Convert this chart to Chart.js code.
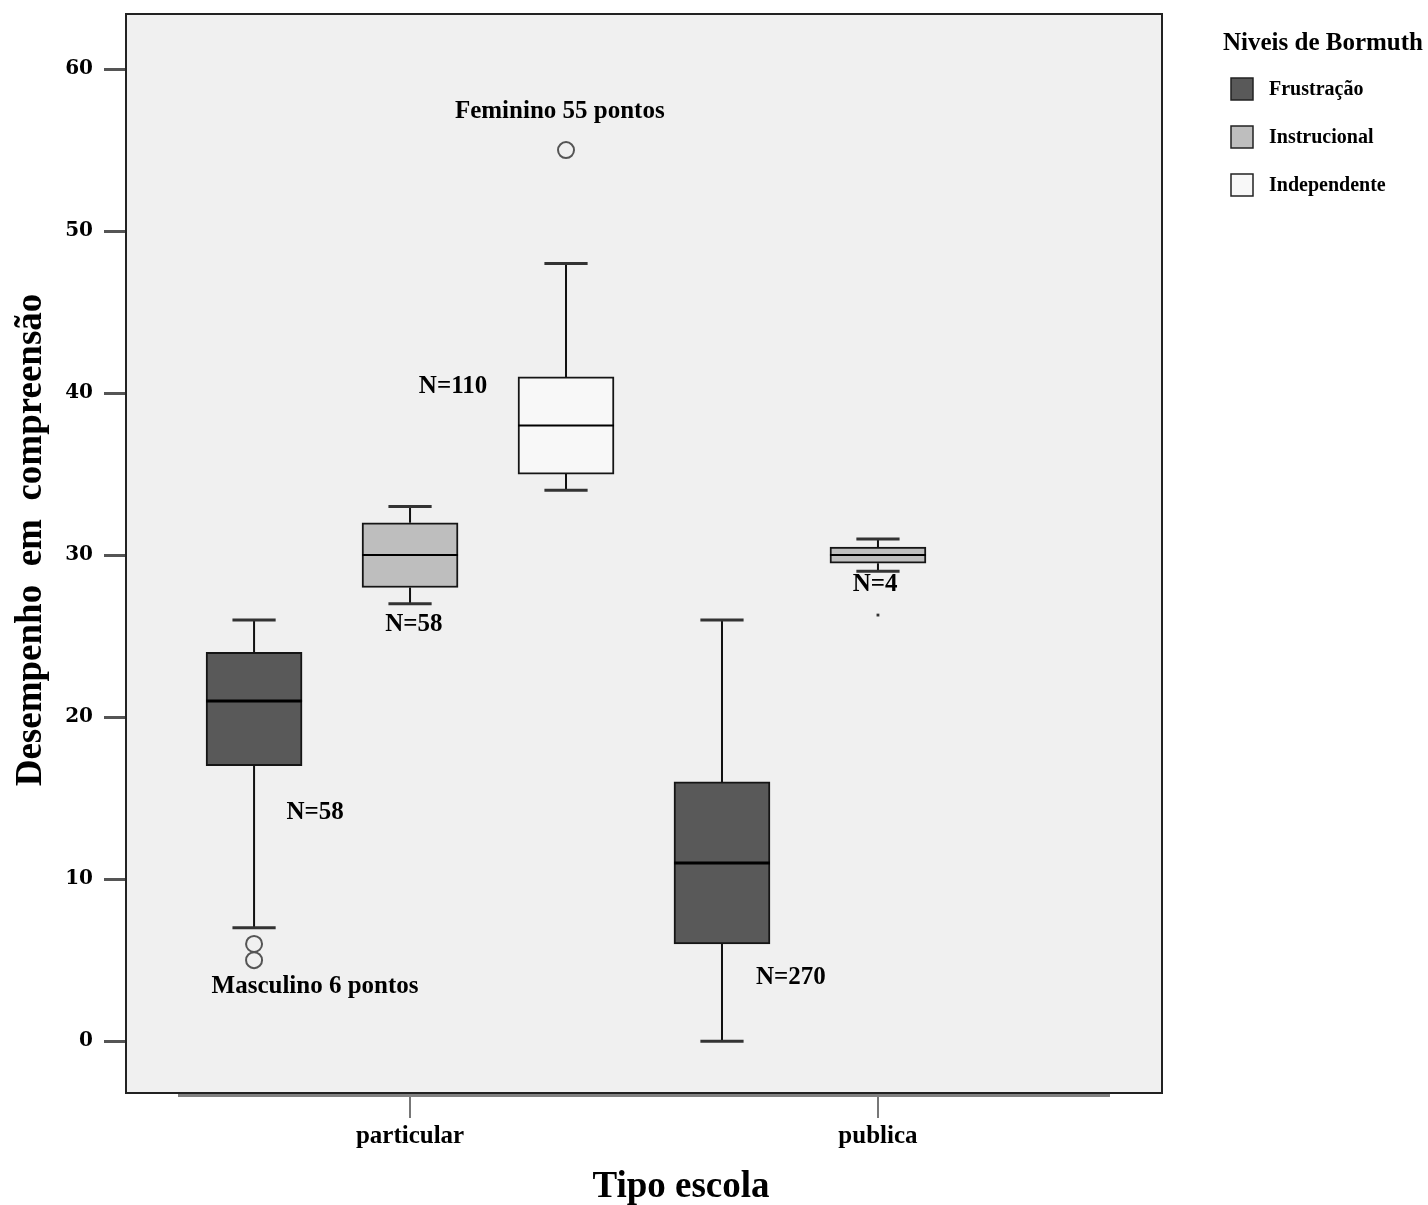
<!DOCTYPE html>
<html>
<head>
<meta charset="utf-8">
<script src="https://cdn.jsdelivr.net/npm/chart.js@4.4.0/dist/chart.umd.min.js"></script>
<style>
    body { margin: 0; background: #fff; }
    #wrap { width: 1428px; height: 1205px; }
</style>
</head>
<body>
<div id="wrap"><canvas id="myChart" width="1428" height="1205"></canvas></div>
<script>

const schools = ['particular', 'publica']
const schoolPos = [1, 2]
const levels = ['Frustração', 'Instrucional', 'Independente']
const levelOffset = [-1/3, 0, 1/3]
const levelColors = ['#595959', '#bebebe', '#f8f8f8']
const yTicks = [0, 10, 20, 30, 40, 50, 60]

// [min, q1, median, q3, max] for particular, publica
const frustracao = [[7, 17, 21, 24, 26], [0, 6, 11, 16, 26]]
const instrucional = [[27, 28, 30, 32, 33], [29, 29.5, 30, 30.5, 31]]
const independente = [[34, 35, 38, 41, 48], null]
const levelStats = [frustracao, instrucional, independente]

// outliers for particular, publica
const frustOutliers = [[6, 5], []]
const instrOutliers = [[], [26.3]]
const indepOutliers = [[55], []]

// text notes placed in axis units
const noteTexts = ['Feminino 55 pontos', 'N=110', 'N=58', 'N=58', 'Masculino 6 pontos', 'N=270', 'N=4']
const noteX = [1.32, 1.092, 1.008, 0.797, 0.797, 1.814, 1.994]
const noteY = [57.35, 40.4, 25.7, 14.1, 3.4, 3.9, 28.2]

const xTitle = 'Tipo escola'
const yTitle = 'Desempenho  em  compreensão'

Chart.defaults.font.family = "'Liberation Serif', 'Times New Roman', serif"
Chart.defaults.font.weight = 'bold'
Chart.defaults.color = '#000'

function boxData(stats, level) {
    const out = []
    stats.forEach((s, i) => {
        if (s) out.push({ x: schoolPos[i] + levelOffset[level], y: [s[1], s[3]], school: i })
    })
    return out
}

function outlierData(list, level) {
    const out = []
    list.forEach((vals, i) => {
        vals.forEach(v => out.push({ x: schoolPos[i] + levelOffset[level], y: v }))
    })
    return out
}

const datasets = levels.map((name, l) => ({
    type: 'bar',
    label: name,
    data: boxData(levelStats[l], l),
    backgroundColor: levelColors[l],
    borderColor: '#151515',
    borderWidth: 2,
    borderSkipped: false,
    barThickness: 96,
    grouped: false
}))

datasets.push({
    type: 'scatter',
    label: 'outliers',
    data: [...outlierData(frustOutliers, 0), ...outlierData(indepOutliers, 2)],
    pointStyle: 'circle',
    pointRadius: 8,
    borderColor: '#555',
    borderWidth: 2,
    backgroundColor: 'rgba(0,0,0,0)'
})
datasets.push({
    type: 'scatter',
    label: 'extremos',
    data: outlierData(instrOutliers, 1),
    pointStyle: 'rect',
    pointRadius: 2,
    borderWidth: 0,
    backgroundColor: '#333'
})

const boxPlugin = {
    id: 'boxPlugin',
    beforeDraw(chart) {
        const { ctx, chartArea } = chart
        ctx.save()
        ctx.fillStyle = '#f0f0f0'
        ctx.fillRect(chartArea.left, chartArea.top, chartArea.right - chartArea.left, chartArea.bottom - chartArea.top)
        ctx.restore()
    },
    beforeDatasetsDraw(chart) {
        const { ctx } = chart
        const x = chart.scales.x
        const y = chart.scales.y
        ctx.save()
        levelStats.forEach((stats, l) => {
            const meta = chart.getDatasetMeta(l)
            meta.data.forEach((bar, j) => {
                const d = chart.data.datasets[l].data[j]
                const s = stats[d.school]
                const px = x.getPixelForValue(d.x)
                const cap = bar.width * 0.45
                ctx.strokeStyle = '#111'
                ctx.lineWidth = 2
                ctx.beginPath()
                ctx.moveTo(px, y.getPixelForValue(s[3]))
                ctx.lineTo(px, y.getPixelForValue(s[4]))
                ctx.moveTo(px, y.getPixelForValue(s[1]))
                ctx.lineTo(px, y.getPixelForValue(s[0]))
                ctx.stroke()
                ctx.strokeStyle = '#333'
                ctx.lineWidth = 3
                ctx.beginPath()
                ctx.moveTo(px - cap / 2, y.getPixelForValue(s[4]))
                ctx.lineTo(px + cap / 2, y.getPixelForValue(s[4]))
                ctx.moveTo(px - cap / 2, y.getPixelForValue(s[0]))
                ctx.lineTo(px + cap / 2, y.getPixelForValue(s[0]))
                ctx.stroke()
            })
        })
        ctx.restore()
    },
    afterDatasetsDraw(chart) {
        const { ctx } = chart
        const x = chart.scales.x
        const y = chart.scales.y
        ctx.save()
        levelStats.forEach((stats, l) => {
            const meta = chart.getDatasetMeta(l)
            meta.data.forEach((bar, j) => {
                const d = chart.data.datasets[l].data[j]
                const s = stats[d.school]
                const px = x.getPixelForValue(d.x)
                const py = y.getPixelForValue(s[2])
                ctx.strokeStyle = '#000'
                ctx.lineWidth = l === 0 ? 3 : 2
                ctx.beginPath()
                ctx.moveTo(px - bar.width / 2, py)
                ctx.lineTo(px + bar.width / 2, py)
                ctx.stroke()
            })
        })
        ctx.font = "bold 25px 'Liberation Serif'"
        ctx.fillStyle = '#000'
        ctx.textAlign = 'center'
        ctx.textBaseline = 'middle'
        noteTexts.forEach((t, i) => {
            ctx.fillText(t, x.getPixelForValue(noteX[i]), y.getPixelForValue(noteY[i]))
        })
        ctx.restore()
    },
    afterDraw(chart) {
        const { ctx, chartArea } = chart
        ctx.save()
        // frame
        ctx.strokeStyle = '#222'
        ctx.lineWidth = 2
        ctx.strokeRect(chartArea.left, chartArea.top, chartArea.right - chartArea.left, chartArea.bottom - chartArea.top)
        // axis line under the frame
        ctx.strokeStyle = '#808080'
        ctx.lineWidth = 3
        ctx.beginPath()
        ctx.moveTo(chartArea.left + 52, chartArea.bottom + 2.5)
        ctx.lineTo(chartArea.right - 52, chartArea.bottom + 2.5)
        ctx.stroke()
        // axis titles
        ctx.fillStyle = '#000'
        ctx.textAlign = 'center'
        ctx.textBaseline = 'middle'
        ctx.font = "bold 37px 'Liberation Serif'"
        ctx.fillText(xTitle, 681, 1187)
        ctx.translate(31, 540)
        ctx.rotate(-Math.PI / 2)
        ctx.fillText(yTitle, 0, 0)
        ctx.setTransform(1, 0, 0, 1, 0, 0)
        // legend
        const lx = chartArea.right + 61
        ctx.textAlign = 'left'
        ctx.font = "bold 25px 'Liberation Serif'"
        ctx.fillText('Niveis de Bormuth', lx, 44)
        ctx.font = "bold 20px 'Liberation Serif'"
        levels.forEach((name, l) => {
            const cy = 89 + l * 48
            ctx.fillStyle = levelColors[l]
            ctx.fillRect(lx + 8, cy - 11, 22, 22)
            ctx.strokeStyle = '#222'
            ctx.lineWidth = 1.5
            ctx.strokeRect(lx + 8, cy - 11, 22, 22)
            ctx.fillStyle = '#000'
            ctx.fillText(name, lx + 46, cy + 1)
        })
        ctx.restore()
    }
}

const ctx = document.getElementById('myChart')
new Chart(ctx, {
    data: { datasets: datasets },
    options: {
        responsive: false,
        animation: false,
        layout: { padding: { left: 0, top: 14, right: 266, bottom: 0 } },
        plugins: {
            legend: { display: false },
            tooltip: { enabled: false }
        },
        scales: {
            x: {
                type: 'linear',
                offset: false,
                min: 0.393,
                max: 2.607,
                afterBuildTicks: scale => { scale.ticks = schoolPos.map(v => ({ value: v })) },
                afterFit: scale => {
                    scale.height = 112
                    scale.paddingLeft = 0
                    scale.paddingRight = 0
                },
                ticks: {
                    callback: (v, i) => schools[i],
                    font: { size: 25, weight: 'bold' },
                    padding: 4,
                    maxRotation: 0
                },
                grid: { offset: false, drawOnChartArea: false, drawTicks: true, tickLength: 25, color: '#777', lineWidth: 2 },
                border: { display: false }
            },
            y: {
                type: 'linear',
                min: -3.2,
                max: 63.4,
                afterBuildTicks: scale => { scale.ticks = yTicks.map(v => ({ value: v })) },
                afterFit: scale => {
                    scale.width = 126
                    scale.paddingTop = 0
                    scale.paddingBottom = 0
                },
                ticks: {
                    font: { family: "'DejaVu Serif'", size: 20, weight: 'bold' },
                    padding: 11
                },
                grid: { drawOnChartArea: false, drawTicks: true, tickLength: 22, color: '#555', lineWidth: 3 },
                border: { display: false }
            }
        }
    },
    plugins: [boxPlugin]
})
</script>
</body>
</html>
